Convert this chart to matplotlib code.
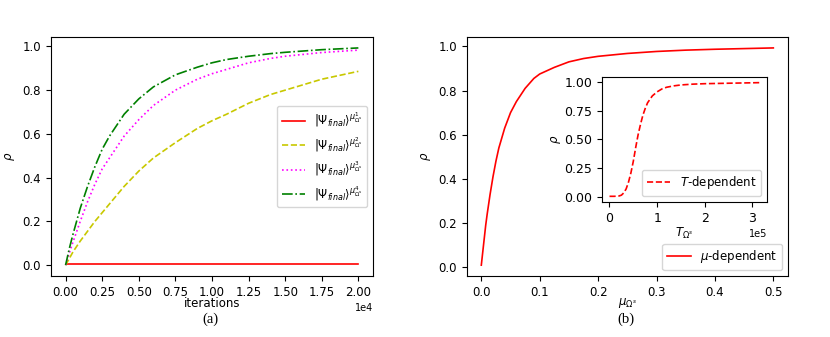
import matplotlib
matplotlib.use("Agg")
import matplotlib.pyplot as plt
import numpy as np

# ---- data (a) ----
iters = [0, 0.025e4, 0.05e4, 0.1e4, 0.15e4, 0.2e4, 0.25e4, 0.3e4, 0.4e4, 0.5e4, 0.6e4,
         0.75e4, 0.9e4, 1.0e4, 1.1e4, 1.25e4, 1.4e4, 1.5e4, 1.75e4, 2.0e4]
rho_mu1 = [0.005] * 20
rho_mu2 = [0, 0.03, 0.06, 0.11, 0.155, 0.2, 0.24, 0.28, 0.36, 0.43, 0.49,
           0.56, 0.625, 0.66, 0.69, 0.74, 0.78, 0.80, 0.85, 0.886]
rho_mu3 = [0, 0.055, 0.105, 0.2, 0.29, 0.37, 0.44, 0.49, 0.59, 0.665, 0.73,
           0.80, 0.85, 0.875, 0.895, 0.925, 0.945, 0.955, 0.972, 0.983]
rho_mu4 = [0, 0.075, 0.14, 0.26, 0.36, 0.45, 0.53, 0.59, 0.69, 0.76, 0.815,
           0.87, 0.905, 0.925, 0.94, 0.955, 0.967, 0.973, 0.985, 0.993]

# ---- data (b) main ----
mu = [0, 0.0025, 0.005, 0.0075, 0.01, 0.015, 0.02, 0.025, 0.03, 0.04, 0.05, 0.06,
      0.075, 0.09, 0.1, 0.125, 0.15, 0.175, 0.2, 0.25, 0.3, 0.35, 0.4, 0.45, 0.5]
rho_mu = [0.01, 0.07, 0.13, 0.19, 0.24, 0.33, 0.41, 0.48, 0.54, 0.63, 0.70, 0.75,
          0.81, 0.855, 0.875, 0.905, 0.93, 0.945, 0.955, 0.968, 0.977, 0.983, 0.987, 0.99, 0.993]

# ---- data (b) inset ----
T = [0, 0.1e5, 0.2e5, 0.25e5, 0.3e5, 0.35e5, 0.4e5, 0.45e5, 0.5e5, 0.55e5, 0.6e5,
     0.65e5, 0.7e5, 0.75e5, 0.8e5, 0.9e5, 1.0e5, 1.1e5, 1.2e5, 1.35e5, 1.5e5,
     1.75e5, 2.0e5, 2.5e5, 3.15e5]
rho_T = [0.005, 0.005, 0.008, 0.015, 0.035, 0.07, 0.13, 0.21, 0.31, 0.43, 0.54,
         0.63, 0.71, 0.77, 0.82, 0.88, 0.915, 0.94, 0.955, 0.967, 0.975,
         0.982, 0.986, 0.99, 0.995]

plt.rcParams['font.family'] = ['DejaVu Sans']
plt.rcParams['mathtext.fontset'] = 'dejavusans'
fs = 8.5

fig = plt.figure(figsize=(8.3, 3.37), dpi=100)

# ---------- (a) ----------
ax1 = fig.add_axes([0.0614, 0.181, 0.388, 0.709])
ax1.plot(iters, rho_mu1, color='red', ls='-', lw=1.2,
         label=r'$|\Psi_{final}\rangle^{\mu^1_{\Omega^s}}$')
ax1.plot(iters, rho_mu2, color='#c8c800', ls='--', lw=1.2,
         label=r'$|\Psi_{final}\rangle^{\mu^2_{\Omega^s}}$')
ax1.plot(iters, rho_mu3, color='magenta', ls=':', lw=1.2,
         label=r'$|\Psi_{final}\rangle^{\mu^3_{\Omega^s}}$')
ax1.plot(iters, rho_mu4, color='green', ls='-.', lw=1.2,
         label=r'$|\Psi_{final}\rangle^{\mu^4_{\Omega^s}}$')
ax1.set_xticks(np.arange(0, 2.01e4, 0.25e4))
ax1.set_yticks([0, 0.2, 0.4, 0.6, 0.8, 1.0])
ax1.ticklabel_format(axis='x', style='sci', scilimits=(0, 0))
ax1.xaxis.get_offset_text().set_fontsize(fs - 1.5)
ax1.tick_params(labelsize=fs)
ax1.set_xlabel('iterations', fontsize=fs, labelpad=-1)
ax1.set_ylabel(r'$\rho$', fontsize=fs)
ax1.legend(loc='center right', fontsize=fs - 0.2)
fig.text(0.253, 0.054, '(a)', fontsize=10.5, family='Liberation Serif', ha='center', va='center')

# ---------- (b) ----------
ax2 = fig.add_axes([0.5623, 0.181, 0.387, 0.709])
ax2.plot(mu, rho_mu, color='red', lw=1.2, label=r'$\mu$-dependent')
ax2.set_xticks([0, 0.1, 0.2, 0.3, 0.4, 0.5])
ax2.set_yticks([0, 0.2, 0.4, 0.6, 0.8, 1.0])
ax2.tick_params(labelsize=fs)
ax2.set_xlabel(r'$\mu_{\Omega^s}$', fontsize=fs, labelpad=-2)
ax2.set_ylabel(r'$\rho$', fontsize=fs)
ax2.legend(loc='lower right', fontsize=fs)
fig.text(0.754, 0.052, '(b)', fontsize=10.5, family='Liberation Serif', ha='center', va='center')

# ---------- inset ----------
ax3 = fig.add_axes([0.7253, 0.4006, 0.1988, 0.371])
ax3.plot(T, rho_T, color='red', ls='--', lw=1.2, label=r'$T$-dependent')
ax3.set_xticks([0, 1e5, 2e5, 3e5])
ax3.set_yticks([0, 0.25, 0.5, 0.75, 1.0])
ax3.ticklabel_format(axis='x', style='sci', scilimits=(0, 0))
ax3.xaxis.get_offset_text().set_fontsize(fs - 1.5)
ax3.tick_params(labelsize=fs + 0.5)
ax3.set_xlabel(r'$T_{\Omega^s}$', fontsize=fs, labelpad=1)
ax3.set_ylabel(r'$\rho$', fontsize=fs, labelpad=1)
ax3.legend(loc='lower right', fontsize=fs)

fig.savefig('out.png', dpi=100)
